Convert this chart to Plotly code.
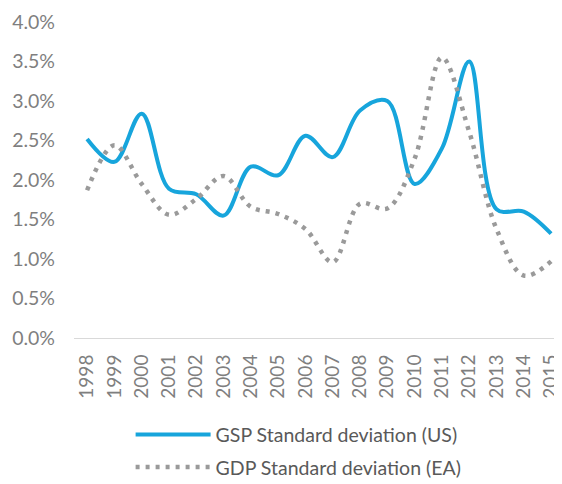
import plotly.graph_objects as go

years = [str(y) for y in range(1998, 2016)]
gsp_us = [2.52, 2.23, 2.84, 1.89, 1.82, 1.55, 2.17, 2.06, 2.56, 2.29, 2.88, 3.0, 1.95, 2.40, 3.5, 1.63, 1.6, 1.32]
gdp_ea = [1.87, 2.44, 1.95, 1.56, 1.76, 2.05, 1.66, 1.57, 1.38, 0.96, 1.70, 1.64, 2.27, 3.55, 2.61, 1.38, 0.79, 0.97]
y_ticks = [0, 0.5, 1.0, 1.5, 2.0, 2.5, 3.0, 3.5, 4.0]
y_labels = [f"{v:.1f}%" for v in y_ticks]

fig = go.Figure()
fig.add_trace(go.Scatter(
    x=years, y=gsp_us, mode="lines", name="GSP Standard deviation (US)",
    legendgroup="a",
    line=dict(color="#17a5dc", width=4, shape="spline", smoothing=1.0),
))
fig.add_trace(go.Scatter(
    x=years, y=gdp_ea, mode="lines", name="GDP Standard deviation (EA)",
    legendgroup="b",
    line=dict(color="#9a9a9a", width=4.5, shape="spline", smoothing=1.0, dash="4px,6px"),
))

# page body has an 8px margin, so the figure is 8px smaller than the window
fig.update_layout(
    width=554, height=476,
    margin=dict(l=66, r=0, t=14, b=146, autoexpand=False),
    paper_bgcolor="white", plot_bgcolor="white",
    font=dict(family="Lato, Carlito, sans-serif", color="#595959"),
    showlegend=True,
    legend=dict(
        orientation="v", x=0.116, xanchor="left", y=-0.245, yanchor="top",
        font=dict(size=19.5, color="#595959"), tracegroupgap=4,
        itemwidth=75,
    ),
)
fig.update_xaxes(
    type="category", tickangle=-90, showgrid=False, automargin=False,
    range=[-0.48, 17.4],
    showline=True, linecolor="#d9d9d9", linewidth=1,
    ticks="", tickfont=dict(size=19, color="#7f7f7f"), ticklabelstandoff=8,
)
fig.update_yaxes(
    range=[0, 4.0], tickvals=y_ticks, ticktext=y_labels, automargin=False,
    showgrid=False, zeroline=False, showline=False, ticks="",
    tickfont=dict(size=19.5, color="#7f7f7f"), ticklabelstandoff=18,
)

fig.write_html("out.html")
